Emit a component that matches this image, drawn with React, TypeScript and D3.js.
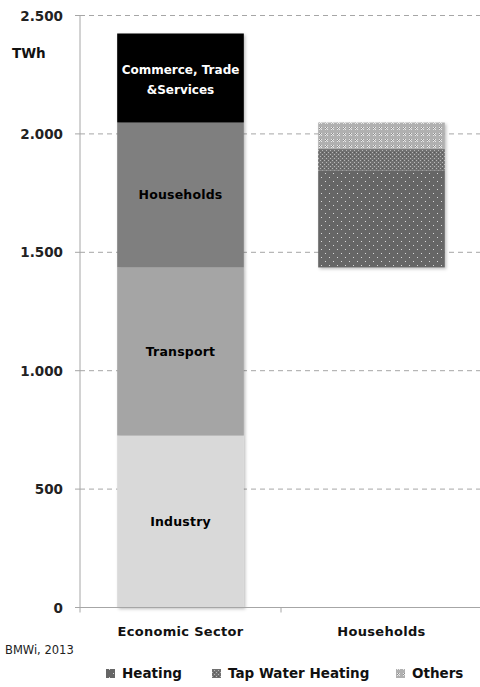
import React from "react";
import * as d3 from "d3";

const categories = ["Economic Sector", "Households"];
const sectorNames = ["Industry", "Transport", "Households", "Commerce, Trade\n&Services"];
const sectorValues = [726, 710, 612, 376];
const householdBase = 1436;
const householdNames = ["Heating", "Tap Water Heating", "Others"];
const householdValues = [410, 90, 112];
const yTicks = [0, 500, 1000, 1500, 2000, 2500];

const sectorColors = ["#d9d9d9", "#a5a5a5", "#7f7f7f", "#000000"];
const sectorTextColors = ["#000", "#000", "#000", "#fff"];

const W = 480;
const H = 687;

export default function App() {
  const x = d3.scaleBand<string>().domain(categories).range([80, 482]).paddingInner(0).paddingOuter(0);
  const y = d3.scaleLinear().domain([0, 2500]).range([607.5, 15.5]);
  const bw = x.bandwidth() * 0.63;
  const fmt = (v: number) => d3.format(",")(v).replace(/,/g, ".");
  const font = "'DejaVu Sans', 'Open Sans', sans-serif";

  let cum = 0;
  const sectorStack = sectorValues.map((v, i) => {
    const s = { y0: cum, y1: cum + v, name: sectorNames[i], color: sectorColors[i], tc: sectorTextColors[i] };
    cum += v;
    return s;
  });
  let cum2 = householdBase;
  const hhStack = householdValues.map((v, i) => {
    const s = { y0: cum2, y1: cum2 + v, name: householdNames[i] };
    cum2 += v;
    return s;
  });
  const patIds = ["pHeat", "pTap", "pOther"];

  const x0 = (x(categories[0]) as number) + (x.bandwidth() - bw) / 2;
  const x1 = (x(categories[1]) as number) + (x.bandwidth() - bw) / 2;

  const legendX = [106, 212, 396];

  return (
    <svg width={W} height={H} style={{ position: "absolute", left: 0, top: 0, background: "#fff" }} fontFamily={font}>
      <defs>
        <pattern id="pHeat" width="8" height="8" patternUnits="userSpaceOnUse">
          <rect width="8" height="8" fill="#666666" />
          <rect x="1" y="1" width="1" height="1" fill="#d8d8d8" />
          <rect x="5" y="5" width="1" height="1" fill="#d8d8d8" />
        </pattern>
        <pattern id="pTap" width="4" height="4" patternUnits="userSpaceOnUse">
          <rect width="4" height="4" fill="#707070" />
          <rect x="0" y="0" width="1" height="1" fill="#b8b8b8" />
          <rect x="2" y="2" width="1" height="1" fill="#b8b8b8" />
          <rect x="2" y="0" width="1" height="1" fill="#5a5a5a" />
        </pattern>
        <pattern id="pOther" width="6" height="6" patternUnits="userSpaceOnUse">
          <rect width="6" height="6" fill="#b0b0b0" />
          <rect x="1" y="1" width="1" height="1" fill="#e8e8e8" />
          <rect x="3" y="1" width="1" height="1" fill="#e8e8e8" />
          <rect x="2" y="2" width="1" height="1" fill="#e8e8e8" />
          <rect x="1" y="3" width="1" height="1" fill="#e8e8e8" />
          <rect x="3" y="3" width="1" height="1" fill="#e8e8e8" />
          <rect x="2" y="1" width="1" height="1" fill="#8a8a8a" />
          <rect x="1" y="2" width="1" height="1" fill="#8a8a8a" />
        </pattern>
        <filter id="shadow" x="-10%" y="-10%" width="130%" height="130%">
          <feDropShadow dx="1.5" dy="1.5" stdDeviation="1.5" floodColor="#000" floodOpacity="0.25" />
        </filter>
      </defs>

      {/* gridlines */}
      {yTicks.filter((t) => t > 0).map((t) => (
        <line key={t} x1={80} x2={480} y1={y(t)} y2={y(t)} stroke="#a6a6a6" strokeDasharray="5,4" strokeWidth={1} />
      ))}

      {/* economic sector bars */}
      <g filter="url(#shadow)">
        {sectorStack.map((s, i) => (
          <rect key={i} x={x0} width={bw} y={y(s.y1)} height={y(s.y0) - y(s.y1)} fill={s.color} />
        ))}
      </g>
      {sectorStack.map((s, i) => {
        const lines = s.name.split("\n");
        const cy = (y(s.y0) + y(s.y1)) / 2;
        const multi = lines.length > 1;
        return (
          <text key={i} x={x0 + bw / 2} y={cy - (lines.length - 1) * 10 + (multi ? 6 : 4.5)} textAnchor="middle" fontSize={multi ? 12 : 12.5} fontWeight="bold" letterSpacing={multi ? 0 : 0.2} fill={s.tc}>
            {lines.map((l, j) => (
              <tspan key={j} x={x0 + bw / 2} dy={j === 0 ? 0 : 20}>{l}</tspan>
            ))}
          </text>
        );
      })}

      {/* households bars */}
      <g filter="url(#shadow)">
        {hhStack.map((s, i) => (
          <rect key={i} x={x1} width={bw} y={y(s.y1)} height={y(s.y0) - y(s.y1)} fill={`url(#${patIds[i]})`} />
        ))}
      </g>

      {/* axes */}
      <line x1={80} x2={80} y1={y(2500)} y2={y(0)} stroke="#a6a6a6" />
      <line x1={80} x2={482} y1={y(0)} y2={y(0)} stroke="#a6a6a6" />
      {yTicks.map((t) => (
        <g key={t}>
          <line x1={75} x2={80} y1={y(t)} y2={y(t)} stroke="#a6a6a6" />
          <text x={63} y={y(t) + 5} textAnchor="end" fontSize={13.5} fontWeight="bold" fill="#222">{fmt(t)}</text>
        </g>
      ))}
      {[80, x(categories[1]) as number, 482].map((px, i) => (
        <line key={i} x1={px} x2={px} y1={y(0)} y2={y(0) + 5} stroke="#a6a6a6" />
      ))}
      {categories.map((c) => (
        <text key={c} x={(x(c) as number) + x.bandwidth() / 2} y={636} textAnchor="middle" fontSize={13} fontWeight="bold" letterSpacing={0.3} fill="#111">{c}</text>
      ))}

      <text x={12} y={58} fontSize={13.5} fontWeight="bold" fill="#111">TWh</text>
      <text x={5} y={654} fontSize={11.5} fill="#222">BMWi, 2013</text>

      {/* legend */}
      {householdNames.map((n, i) => (
        <g key={n}>
          <rect x={legendX[i]} y={669} width={9} height={9} fill={`url(#${patIds[i]})`} />
          <text x={legendX[i] + 16} y={678} fontSize={13.5} fontWeight="bold" fill="#111">{n}</text>
        </g>
      ))}
    </svg>
  );
}
